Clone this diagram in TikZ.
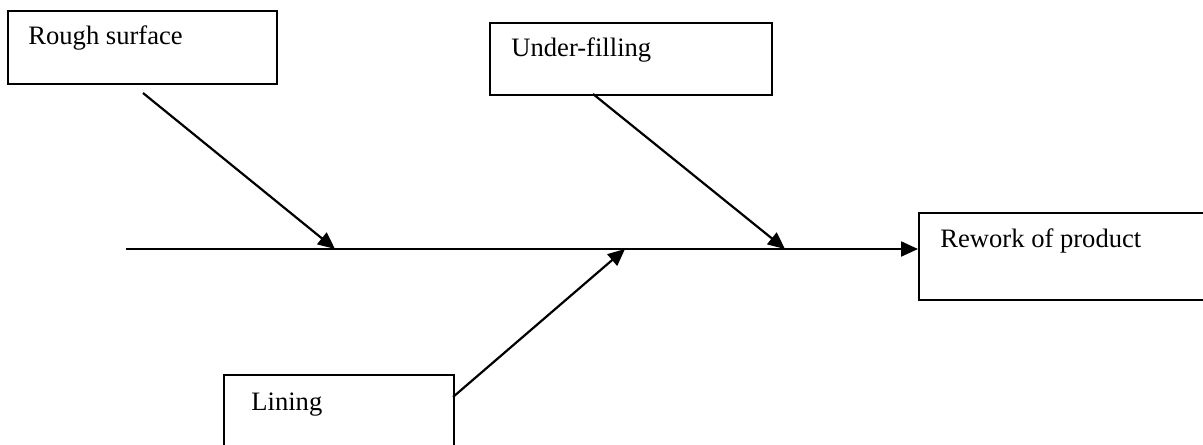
\documentclass[tikz,border=0pt]{standalone}
\usepackage{fontspec}
\setmainfont{Liberation Serif}
\usetikzlibrary{arrows.meta,calc}
\begin{document}
\begin{tikzpicture}[x=0.5pt,y=-0.5pt,
  box/.style={draw,line width=0.8pt,rectangle,inner sep=0pt,anchor=north west},
  lbl/.style={anchor=base west,inner sep=0pt,font=\fontsize{13.3pt}{15pt}\selectfont},
  arr/.style={line width=1.1pt,-{Triangle[length=8.5pt,width=7.5pt]}}]
\useasboundingbox (0,0) rectangle (1203,444);
% boxes
\node[box,minimum width=134.5pt,minimum height=36.5pt] (rough) at (7,10) {};
\node[lbl] (roughtxt) at (28,45) {Rough surface};
\node[box,minimum width=141pt,minimum height=36pt] (under) at (489,22) {};
\node[lbl] (undertxt) at (511,57) {Under-filling};
\node[box,minimum width=143pt,minimum height=43.5pt] (rework) at (918,212) {};
\node[lbl] (reworktxt) at (940,247) {Rework of product};
\node[box,minimum width=115pt,minimum height=36pt] (lining) at (223,374) {};
\node[lbl] (liningtxt) at (251,410) {Lining};
% spine
\coordinate (tail) at (126,249);
\coordinate (p1) at (335,249);
\coordinate (p2) at (625,249);
\coordinate (p3) at (785,249);
\coordinate (s1) at (143,93);
\coordinate (s2) at (593,94);
\coordinate (s3) at (453,397);
\draw[arr] (tail) -- (tail -| rework.west);
\draw[arr] (s1) -- (p1);
\draw[arr] (s2) -- (p3);
\draw[arr] (s3) -- (p2);
\end{tikzpicture}
\end{document}
